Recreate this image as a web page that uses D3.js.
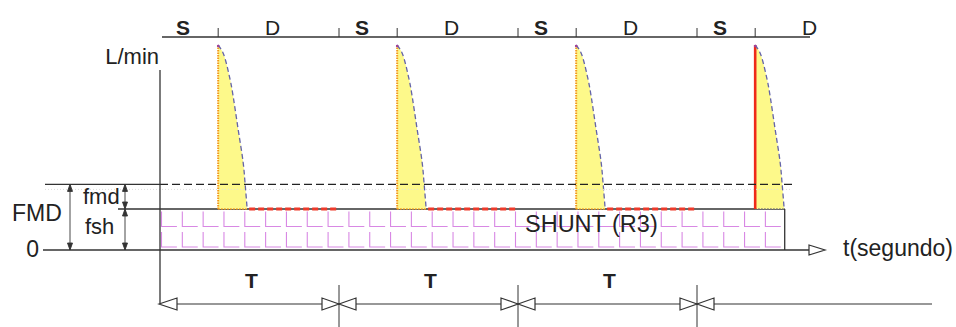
<!DOCTYPE html>
<html>
<head>
<meta charset="utf-8">
<script src="https://cdn.jsdelivr.net/npm/d3@7"></script>
<style>
  html, body { margin: 0; padding: 0; background: #fff; }
  svg { display: block; }
  text { font-family: "Liberation Sans", Arial, sans-serif; fill: #222; }
</style>
</head>
<body>
<svg id="chart" width="956" height="327"></svg>
<script>
// Cardiac phases along the top (time in units of one period T)
const phaseLabels = ["S", "D", "S", "D", "S", "D", "S", "D"];
const phaseStarts = [0, 0.325, 1, 1.325, 2, 2.325, 3, 3.325];
const phaseEnd = 4.0;

// Periods marked on the dimension line below
const periodStarts = [0, 1, 2, 3];
const periodLabels = ["T", "T", "T"];

// Pulse onset times (start of each diastole)
const pulseStarts = [0.325, 1.325, 2.325, 3.325];
// Pulse profile: [time offset from onset, flow]
const pulseProfile = [[0, 5.0], [0.028, 4.8], [0.067, 4.15], [0.078, 3.9],
                      [0.112, 2.93], [0.140, 2.12], [0.151, 1.59], [0.162, 1.0]];

// Flow levels
const fsh = 1.0;        // shunt flow
const fmd = 0.6;        // mean diastolic flow above the shunt
const FMD = fsh + fmd;  // total mean flow
const shuntEnd = 3.49;  // end of the shunt band
const shuntCells = 30;

const svg = d3.select("#chart");
const x = d3.scaleLinear().domain([0, 4]).range([160, 876]);
const y = d3.scaleLinear().domain([0, 5]).range([250, 45]);

const ink = "#333";

// ---- shunt band hatch (pink L-shaped cells) ----
const cellW = (x(shuntEnd) - x(0)) / shuntCells;
const rows = [[fsh, fsh / 2], [fsh / 2, 0]];
const hatch = svg.append("g").attr("stroke", "#d888e4").attr("stroke-width", 1.1).attr("fill", "none");
rows.forEach(([top, bot]) => {
  d3.range(shuntCells).forEach(i => {
    const x0 = x(0) + i * cellW + 1.5;
    const yt = y(top) + 2.5, yb = y(bot) - 3;
    hatch.append("path").attr("d", `M${x0},${yt}V${yb}H${x0 + cellW * 0.74}`);
  });
});

// Shunt top line and right edge
svg.append("line").attr("x1", 118).attr("x2", x(shuntEnd))
  .attr("y1", y(fsh)).attr("y2", y(fsh)).attr("stroke", ink).attr("stroke-width", 1.3);
svg.append("line").attr("x1", x(shuntEnd)).attr("x2", x(shuntEnd))
  .attr("y1", y(fsh)).attr("y2", y(0)).attr("stroke", ink).attr("stroke-width", 1.3);

// ---- pulses ----
const area = d3.area().x(d => x(d[0])).y0(y(fsh)).y1(d => y(d[1])).curve(d3.curveCatmullRom);
const line = d3.line().x(d => x(d[0])).y(d => y(d[1])).curve(d3.curveCatmullRom);

pulseStarts.forEach((t0, i) => {
  const pts = pulseProfile.map(([dt, v]) => [t0 + dt, v]);
  const g = svg.append("g");
  g.append("path").attr("d", area(pts)).attr("fill", "#fdf98a");
  // bottom edge of the pulse
  g.append("line").attr("x1", x(t0)).attr("x2", x(pts[pts.length - 1][0]))
    .attr("y1", y(fsh)).attr("y2", y(fsh))
    .attr("stroke", i < 3 ? "#f39a1e" : "#777").attr("stroke-width", 1.5)
    .attr("stroke-dasharray", "1.5,1.5");
  // rising edge
  g.append("line").attr("x1", x(t0)).attr("x2", x(t0))
    .attr("y1", y(fsh)).attr("y2", y(pts[0][1]))
    .attr("stroke", i < 3 ? "#f39a1e" : "#ee2a1a")
    .attr("stroke-width", i < 3 ? 2 : 2.6)
    .attr("stroke-dasharray", i < 3 ? "1.5,1" : null);
  // decaying edge
  g.append("path").attr("d", line(pts)).attr("fill", "none")
    .attr("stroke", "#6464a8").attr("stroke-width", 1.3).attr("stroke-dasharray", "5,3");
  g.append("circle").attr("cx", x(t0)).attr("cy", y(pts[0][1]) + 1).attr("r", 1.3).attr("fill", "#a0409a");
  // diastolic shunt flow until the next systole
  if (i < 3) {
    g.append("line").attr("x1", x(pts[pts.length - 1][0]) + 2).attr("x2", x(t0 - 0.325 + 1))
      .attr("y1", y(fsh)).attr("y2", y(fsh))
      .attr("stroke", "#ee3a2a").attr("stroke-width", 3).attr("stroke-dasharray", "6,3");
  }
});

// ---- FMD level ----
svg.append("line").attr("x1", 45).attr("x2", 792)
  .attr("y1", y(FMD) + 5).attr("y2", y(FMD) + 5)
  .attr("stroke", "#ddd").attr("stroke-width", 1).attr("stroke-dasharray", "1,2");
svg.append("line").attr("x1", 45).attr("x2", x(0))
  .attr("y1", y(FMD)).attr("y2", y(FMD)).attr("stroke", ink).attr("stroke-width", 1.2);
svg.append("line").attr("x1", x(0)).attr("x2", 792)
  .attr("y1", y(FMD)).attr("y2", y(FMD)).attr("stroke", "#222").attr("stroke-width", 1.2)
  .attr("stroke-dasharray", "8,4");

// ---- axes ----
// flow axis
svg.append("line").attr("x1", x(0)).attr("x2", x(0)).attr("y1", 70).attr("y2", 304)
  .attr("stroke", ink).attr("stroke-width", 1.3);
// time axis (zero flow)
svg.append("line").attr("x1", 43).attr("x2", 809).attr("y1", y(0)).attr("y2", y(0))
  .attr("stroke", ink).attr("stroke-width", 1.3);
svg.append("path").attr("d", `M809,${y(0) - 5}L825,${y(0)}L809,${y(0) + 5}Z`)
  .attr("fill", "#fff").attr("stroke", ink).attr("stroke-width", 1.2);

svg.append("text").attr("x", 159).attr("y", 64).attr("text-anchor", "end")
  .attr("font-size", 22).text("L/min");
svg.append("text").attr("x", 39).attr("y", 257).attr("text-anchor", "end")
  .attr("font-size", 23).text("0");
svg.append("text").attr("x", 843).attr("y", 256).attr("font-size", 23).text("t(segundo)");
svg.append("text").attr("x", 525).attr("y", 232).attr("font-size", 23.5).text("SHUNT (R3)");

// ---- flow dimensions on the left ----
function dimV(xp, y1, y2) {
  const g = svg.append("g").attr("stroke", ink).attr("fill", ink).attr("stroke-width", 0.9);
  g.append("line").attr("x1", xp).attr("x2", xp).attr("y1", y1).attr("y2", y2);
  g.append("path").attr("d", `M${xp},${y1}l-2.5,7h5Z`);
  g.append("path").attr("d", `M${xp},${y2}l-2.5,-7h5Z`);
}
dimV(70, y(FMD), y(0));
dimV(125, y(FMD), y(fsh));
dimV(125, y(fsh), y(0));
svg.append("text").attr("x", 12).attr("y", 221).attr("font-size", 23).text("FMD");
svg.append("text").attr("x", 83).attr("y", 204).attr("font-size", 22).text("fmd");
svg.append("text").attr("x", 85).attr("y", 234).attr("font-size", 22).text("fsh");

// ---- cardiac phase axis on top ----
const topY = 37;
svg.append("line").attr("x1", x(0) + 2).attr("x2", 810).attr("y1", topY).attr("y2", topY)
  .attr("stroke", ink).attr("stroke-width", 1.3);
phaseStarts.forEach((s, i) => {
  if (i > 0) {
    svg.append("line").attr("x1", x(s)).attr("x2", x(s)).attr("y1", topY - 9).attr("y2", topY)
      .attr("stroke", ink).attr("stroke-width", 1);
  }
  const e = i < phaseStarts.length - 1 ? phaseStarts[i + 1] : phaseEnd;
  svg.append("text").attr("x", (x(s) + x(e)) / 2 - 6).attr("y", 35)
    .attr("text-anchor", "middle").attr("font-size", 21)
    .attr("font-weight", phaseLabels[i] === "S" ? "bold" : "normal")
    .text(phaseLabels[i]);
});

// ---- period dimension line ----
const dimY = 304;
svg.append("line").attr("x1", x(0)).attr("x2", 932).attr("y1", dimY).attr("y2", dimY)
  .attr("stroke", ink).attr("stroke-width", 1.2);
const tri = svg.append("g").attr("fill", "#fff").attr("stroke", ink).attr("stroke-width", 1.2);
tri.append("path").attr("d", `M${x(0) - 1},${dimY}L${x(0) + 17},${dimY - 6}V${dimY + 6}Z`);
periodStarts.slice(1).forEach(t => {
  const xp = x(t);
  svg.append("line").attr("x1", xp).attr("x2", xp).attr("y1", 285).attr("y2", 327)
    .attr("stroke", ink).attr("stroke-width", 1);
  tri.append("path").attr("d", `M${xp},${dimY}L${xp - 17},${dimY - 6}V${dimY + 6}Z`);
  tri.append("path").attr("d", `M${xp},${dimY}L${xp + 17},${dimY - 6}V${dimY + 6}Z`);
});
periodLabels.forEach((lab, i) => {
  svg.append("text").attr("x", (x(periodStarts[i]) + x(periodStarts[i + 1])) / 2 + 2)
    .attr("y", 288).attr("text-anchor", "middle").attr("font-size", 21)
    .attr("font-weight", "bold").text(lab);
});
</script>
</body>
</html>
